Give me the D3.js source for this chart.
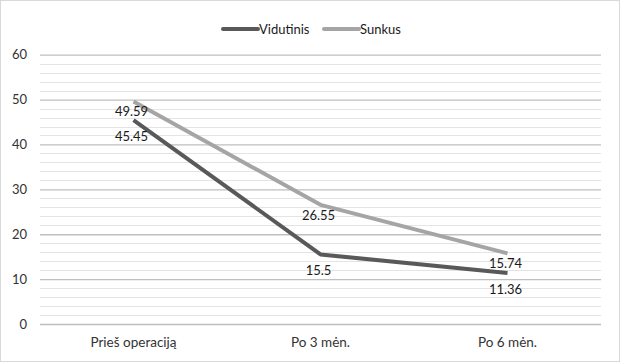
<!DOCTYPE html>
<html lang="lt">
<head>
  <meta charset="UTF-8" />
  <title>Vidutinis / Sunkus</title>
  <script src="https://cdn.jsdelivr.net/npm/d3@7"></script>
  <style>
    body { margin: 0; background: #fff; }
    svg { display: block; font-family: Lato, 'Open Sans', sans-serif; }
  </style>
</head>
<body>
  <svg id="chart" width="620" height="362"></svg>
  <script>
    // duomenys
    const categories = ["Prieš operaciją", "Po 3 mėn.", "Po 6 mėn."];
    const vidutinis = [45.45, 15.5, 11.36];
    const sunkus = [49.59, 26.55, 15.74];
    const seriesNames = ["Vidutinis", "Sunkus"];
    const yTicks = [0, 10, 20, 30, 40, 50, 60];

    const colors = { Vidutinis: "#595959", Sunkus: "#a5a5a5" };
    // label offset below the point (px)
    const labelDy = { Vidutinis: 21, Sunkus: 15 };
    const series = [
      { name: seriesNames[0], values: vidutinis },
      { name: seriesNames[1], values: sunkus }
    ];

    const W = 620, H = 362;
    const m = { left: 40, right: 19 };
    const svg = d3.select("#chart");

    // outer border
    svg.append("rect")
      .attr("x", 0.5).attr("y", 0.5)
      .attr("width", W - 1).attr("height", H - 1)
      .attr("fill", "#fff").attr("stroke", "#d9d9d9");

    const x = d3.scaleBand().domain(categories).range([m.left, W - m.right]);
    const y = d3.scaleLinear().domain([0, 60]).range([324, 54.7]);

    // minor grid (every 2)
    const minor = d3.range(0, 61, 2).filter(v => v % 10 !== 0);
    svg.append("g").selectAll("line").data(minor).enter().append("line")
      .attr("x1", m.left).attr("x2", W - m.right)
      .attr("y1", d => Math.round(y(d)) + 0.5).attr("y2", d => Math.round(y(d)) + 0.5)
      .attr("stroke", "#e4e4e4").attr("stroke-width", 1);

    // major grid + y labels
    const yAxis = d3.axisLeft(y).tickValues(yTicks).tickSize(-(W - m.left - m.right)).tickPadding(13);
    const gy = svg.append("g").attr("transform", `translate(${m.left},0)`).call(yAxis);
    gy.select(".domain").remove();
    gy.selectAll(".tick line").attr("stroke", "#bfbfbf").attr("stroke-width", 1.3);
    gy.selectAll(".tick text")
      .attr("fill", "#333").style("font-size", "13px").style("font-family", "Lato, sans-serif");

    // x labels
    const xAxis = d3.axisBottom(x).tickSize(0).tickPadding(13);
    const gx = svg.append("g").attr("transform", `translate(0,${y(0)})`).call(xAxis);
    gx.select(".domain").remove();
    gx.selectAll(".tick text")
      .attr("fill", "#333").style("font-size", "13.5px").style("font-family", "Lato, sans-serif");

    // lines
    const line = d3.line()
      .x((d, i) => x(categories[i]) + x.bandwidth() / 2)
      .y(d => y(d));

    svg.append("g").selectAll("path").data(series).enter().append("path")
      .attr("d", d => line(d.values))
      .attr("fill", "none")
      .attr("stroke", d => colors[d.name])
      .attr("stroke-width", 4)
      .attr("stroke-linejoin", "round");

    // data labels (below points)
    series.forEach(s => {
      svg.append("g").selectAll("text").data(s.values).enter().append("text")
        .attr("x", (d, i) => x(categories[i]) + x.bandwidth() / 2 - 2)
        .attr("y", d => y(d) + labelDy[s.name])
        .attr("text-anchor", "middle")
        .attr("fill", "#1a1a1a")
        .style("font-size", "13px")
        .text(d => d);
    });

    // legend
    const legend = svg.append("g");
    const legendItems = [
      { name: seriesNames[0], x: 223 },
      { name: seriesNames[1], x: 324 }
    ];
    legendItems.forEach(it => {
      legend.append("line")
        .attr("x1", it.x).attr("x2", it.x + 35)
        .attr("y1", 29).attr("y2", 29)
        .attr("stroke", colors[it.name]).attr("stroke-width", 4)
        .attr("stroke-linecap", "round");
      legend.append("text")
        .attr("x", it.x + 36).attr("y", 33.5)
        .attr("fill", "#1a1a1a").style("font-size", "13px")
        .text(it.name);
    });
  </script>
</body>
</html>
